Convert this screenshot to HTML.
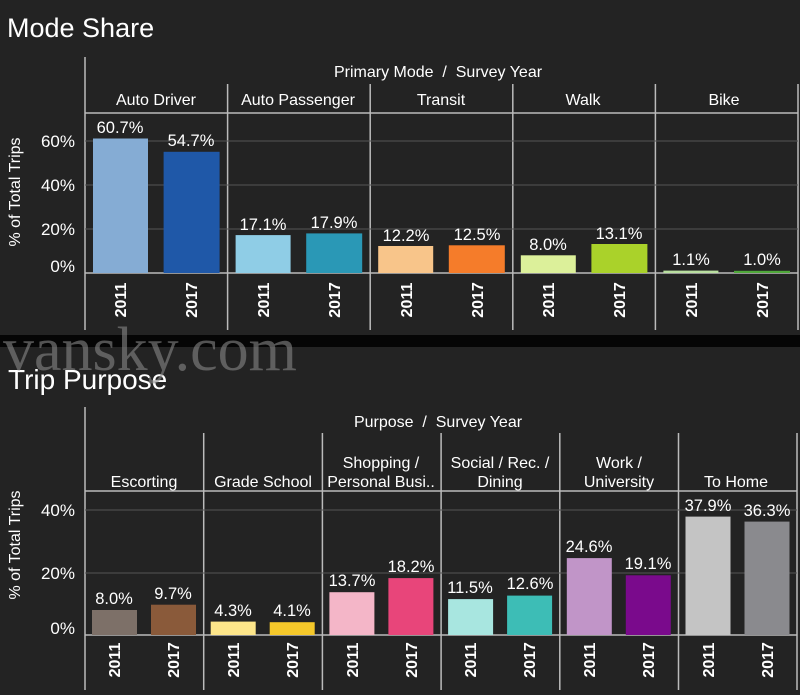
<!DOCTYPE html>
<html><head><style>
html,body{margin:0;padding:0;background:#232323;}
svg{display:block;font-family:"Liberation Sans",Arial,sans-serif;}
</style></head><body>
<svg width="800" height="695" viewBox="0 0 800 695">
<rect width="800" height="695" fill="#232323"/>
<rect x="0" y="335" width="800" height="12" fill="#050505"/>
<text x="7" y="37" font-size="27" fill="#fff">Mode Share</text>
<text x="8" y="389" font-size="28" fill="#fff">Trip Purpose</text>
<text x="3" y="370" font-size="62" fill="#888" opacity="0.6" font-family="Liberation Serif,serif">vansky.com</text>

<!-- TOP CHART -->
<g stroke="#bbb" stroke-width="1.5" fill="none">
<line x1="85" y1="57" x2="85" y2="330"/>
<line x1="227.6" y1="84" x2="227.6" y2="330"/>
<line x1="370.2" y1="84" x2="370.2" y2="330"/>
<line x1="512.8" y1="84" x2="512.8" y2="330"/>
<line x1="655.4" y1="84" x2="655.4" y2="330"/>
<line x1="798" y1="84" x2="798" y2="330"/>
<line x1="85" y1="113" x2="798" y2="113"/>
<line x1="85" y1="273" x2="798" y2="273"/>
</g>
<g stroke="#555" stroke-width="1">
<line x1="85" y1="141" x2="798" y2="141"/>
<line x1="85" y1="185" x2="798" y2="185"/>
<line x1="85" y1="229" x2="798" y2="229"/>
</g>
<g fill="#fff" font-size="16" text-anchor="middle">
<text x="438" y="77" xml:space="preserve">Primary Mode  /  Survey Year</text>
<text x="156" y="105">Auto Driver</text>
<text x="298" y="105">Auto Passenger</text>
<text x="441" y="105">Transit</text>
<text x="583" y="105">Walk</text>
<text x="724" y="105">Bike</text>
</g>
<g fill="#fff" font-size="17" text-anchor="end">
<text x="75" y="147">60%</text><text x="75" y="191">40%</text><text x="75" y="235">20%</text><text x="75" y="272">0%</text>
</g>
<text transform="translate(20,192) rotate(-90)" fill="#fff" font-size="16" text-anchor="middle">% of Total Trips</text>
<rect x="93" y="138.5" width="55" height="134.5" fill="#85acd4"/>
<rect x="163.6" y="151.8" width="56" height="121.2" fill="#1f58a8"/>
<rect x="235.6" y="235.1" width="55" height="37.9" fill="#8fcde6"/>
<rect x="306.2" y="233.4" width="56" height="39.6" fill="#2a98b6"/>
<rect x="378.2" y="246" width="55" height="27" fill="#f8c58a"/>
<rect x="448.8" y="245.3" width="56" height="27.7" fill="#f57c2a"/>
<rect x="520.8" y="255.3" width="55" height="17.7" fill="#dcf09a"/>
<rect x="591.4" y="244" width="56" height="29" fill="#aad22a"/>
<rect x="663.4" y="270.6" width="55" height="2.4" fill="#b9dfa0"/>
<rect x="734" y="270.8" width="56" height="2.2" fill="#4fa83a"/>
<g fill="#fff" font-size="16.5" text-anchor="middle">
<text x="120" y="133">60.7%</text><text x="191" y="146">54.7%</text>
<text x="263" y="230">17.1%</text><text x="334" y="228">17.9%</text>
<text x="406" y="241">12.2%</text><text x="477" y="240">12.5%</text>
<text x="548" y="250">8.0%</text><text x="619" y="239">13.1%</text>
<text x="691" y="265">1.1%</text><text x="762" y="265">1.0%</text>
</g>
<g fill="#fff" font-size="16" font-weight="bold" text-anchor="middle">
<text transform="translate(126,300) rotate(-90)">2011</text>
<text transform="translate(197,300) rotate(-90)">2017</text>
<text transform="translate(269,300) rotate(-90)">2011</text>
<text transform="translate(340,300) rotate(-90)">2017</text>
<text transform="translate(412,300) rotate(-90)">2011</text>
<text transform="translate(483,300) rotate(-90)">2017</text>
<text transform="translate(554,300) rotate(-90)">2011</text>
<text transform="translate(625,300) rotate(-90)">2017</text>
<text transform="translate(697,300) rotate(-90)">2011</text>
<text transform="translate(768,300) rotate(-90)">2017</text>
</g>

<!-- BOTTOM CHART -->
<g stroke="#bbb" stroke-width="1.5" fill="none">
<line x1="85" y1="407" x2="85" y2="690"/>
<line x1="203.7" y1="433" x2="203.7" y2="690"/>
<line x1="322.4" y1="433" x2="322.4" y2="690"/>
<line x1="441.1" y1="433" x2="441.1" y2="690"/>
<line x1="559.8" y1="433" x2="559.8" y2="690"/>
<line x1="678.5" y1="433" x2="678.5" y2="690"/>
<line x1="797" y1="433" x2="797" y2="690"/>
<line x1="85" y1="491" x2="797" y2="491"/>
<line x1="85" y1="635" x2="797" y2="635"/>
</g>
<g stroke="#555" stroke-width="1">
<line x1="85" y1="510" x2="797" y2="510"/>
<line x1="85" y1="573" x2="797" y2="573"/>
</g>
<g fill="#fff" font-size="16" text-anchor="middle">
<text x="438" y="427" xml:space="preserve">Purpose  /  Survey Year</text>
<text x="144" y="487">Escorting</text>
<text x="263" y="487">Grade School</text>
<text x="381" y="468">Shopping /</text><text x="381" y="487">Personal Busi..</text>
<text x="500" y="468">Social / Rec. /</text><text x="500" y="487">Dining</text>
<text x="619" y="468">Work /</text><text x="619" y="487">University</text>
<text x="736" y="487">To Home</text>
</g>
<g fill="#fff" font-size="17" text-anchor="end">
<text x="75" y="516">40%</text><text x="75" y="579">20%</text><text x="75" y="634">0%</text>
</g>
<text transform="translate(20,545) rotate(-90)" fill="#fff" font-size="16" text-anchor="middle">% of Total Trips</text>
<rect x="92" y="610" width="45" height="25" fill="#7d7068"/>
<rect x="151" y="604.7" width="45" height="30.3" fill="#8a5a3a"/>
<rect x="210.7" y="621.6" width="45" height="13.4" fill="#fde68a"/>
<rect x="269.7" y="622.2" width="45" height="12.8" fill="#f5c82a"/>
<rect x="329.4" y="592.2" width="45" height="42.8" fill="#f4b6c8"/>
<rect x="388.4" y="578.1" width="45" height="56.9" fill="#e8457a"/>
<rect x="448.1" y="599.1" width="45" height="35.9" fill="#a8e6e0"/>
<rect x="507.1" y="595.6" width="45" height="39.4" fill="#3dbdb6"/>
<rect x="566.8" y="558.1" width="45" height="76.9" fill="#c195c8"/>
<rect x="625.8" y="575.3" width="45" height="59.7" fill="#7a0a8c"/>
<rect x="685.5" y="516.6" width="45" height="118.4" fill="#c4c4c4"/>
<rect x="744.5" y="521.6" width="45" height="113.4" fill="#8a8a8e"/>
<g fill="#fff" font-size="16.5" text-anchor="middle">
<text x="114" y="604">8.0%</text><text x="173" y="599">9.7%</text>
<text x="233" y="616">4.3%</text><text x="292" y="616">4.1%</text>
<text x="352" y="586">13.7%</text><text x="411" y="572">18.2%</text>
<text x="470" y="593">11.5%</text><text x="530" y="589">12.6%</text>
<text x="589" y="552">24.6%</text><text x="648" y="569">19.1%</text>
<text x="708" y="511">37.9%</text><text x="767" y="516">36.3%</text>
</g>
<g fill="#fff" font-size="16" font-weight="bold" text-anchor="middle">
<text transform="translate(120,660) rotate(-90)">2011</text>
<text transform="translate(179,660) rotate(-90)">2017</text>
<text transform="translate(239,660) rotate(-90)">2011</text>
<text transform="translate(298,660) rotate(-90)">2017</text>
<text transform="translate(358,660) rotate(-90)">2011</text>
<text transform="translate(417,660) rotate(-90)">2017</text>
<text transform="translate(476,660) rotate(-90)">2011</text>
<text transform="translate(535,660) rotate(-90)">2017</text>
<text transform="translate(595,660) rotate(-90)">2011</text>
<text transform="translate(654,660) rotate(-90)">2017</text>
<text transform="translate(714,660) rotate(-90)">2011</text>
<text transform="translate(773,660) rotate(-90)">2017</text>
</g>
</svg>
</body></html>
